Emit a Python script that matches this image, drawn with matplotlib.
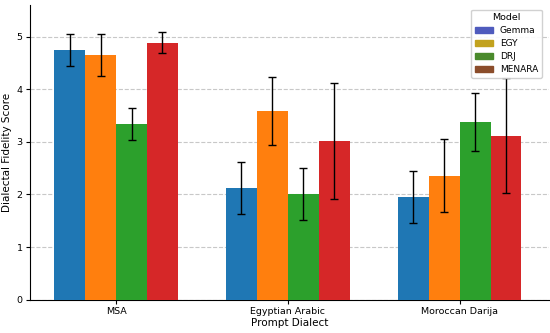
"""
Dialectal fidelity score by prompt dialect, grouped bars per model.
"""
import matplotlib

matplotlib.use("Agg")
import matplotlib.pyplot as plt
import numpy as np
from matplotlib.patches import Patch

dialects = ["MSA", "Egyptian Arabic", "Moroccan Darija"]
models = ["Gemma", "EGY", "DRJ", "MENARA"]

# mean score per model, one value per dialect
scores = {
    "Gemma": [4.75, 2.12, 1.95],
    "EGY": [4.65, 3.59, 2.36],
    "DRJ": [3.34, 2.01, 3.37],
    "MENARA": [4.88, 3.02, 3.12],
}
# error bar half-widths
errors = {
    "Gemma": [0.30, 0.50, 0.50],
    "EGY": [0.40, 0.65, 0.70],
    "DRJ": [0.30, 0.50, 0.55],
    "MENARA": [0.20, 1.10, 1.09],
}

bar_colors = ["#1f77b4", "#ff7f0e", "#2ca02c", "#d62728"]
legend_colors = ["#4f5bbd", "#c2a21e", "#4a8a2c", "#8b4d2b"]


def make_chart():
    fig = plt.figure(figsize=(5.5, 3.33), dpi=100)
    ax = fig.add_axes([0.055, 0.1, 0.943, 0.885])

    x = np.arange(len(dialects))
    width = 0.18

    for i, model in enumerate(models):
        offset = (i - 1.5) * width
        ax.bar(
            x + offset,
            scores[model],
            width,
            yerr=errors[model],
            color=bar_colors[i],
            capsize=3,
            error_kw=dict(elinewidth=1, capthick=1, ecolor="black"),
            zorder=3,
        )

    ax.set_xlim(-0.5, 2.52)
    ax.set_ylim(0, 5.6)
    ax.set_yticks(range(6))
    ax.set_xticks(x)
    ax.set_xticklabels(dialects)
    ax.tick_params(labelsize=6.8, length=3, pad=2.5)

    ax.yaxis.grid(True, linestyle="--", color="#c8c8c8", linewidth=0.8)
    ax.set_axisbelow(True)
    ax.spines["top"].set_visible(False)
    ax.spines["right"].set_visible(False)

    ax.set_xlabel("Prompt Dialect", fontsize=7.5, labelpad=1)
    ax.set_ylabel("Dialectal Fidelity Score", fontsize=7.5, labelpad=3)

    handles = [Patch(color=c, label=m) for c, m in zip(legend_colors, models)]
    ax.legend(
        handles=handles,
        title="Model",
        loc="upper right",
        bbox_to_anchor=(0.995, 1.0),
        fontsize=6.5,
        title_fontsize=6.8,
        handlelength=2,
        labelspacing=0.45,
        borderpad=0.4,
        framealpha=0.9,
    )

    fig.savefig("out.png", dpi=100)


if __name__ == "__main__":
    make_chart()
